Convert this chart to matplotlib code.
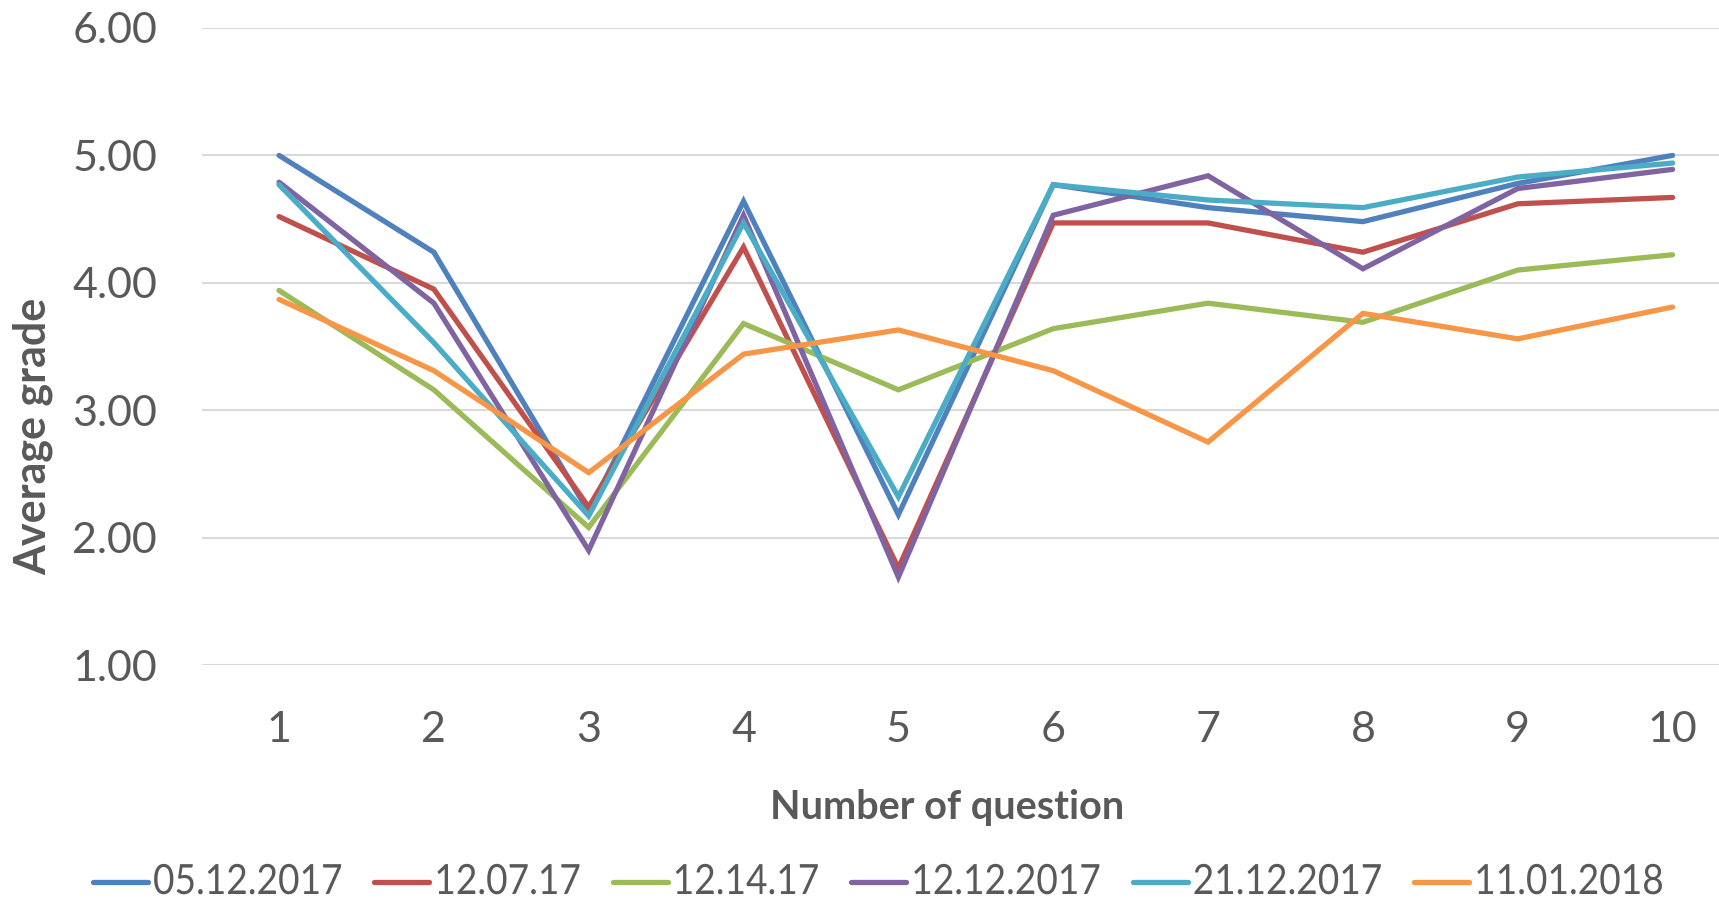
import matplotlib
matplotlib.use("Agg")
import matplotlib.pyplot as plt
from matplotlib.lines import Line2D
from matplotlib.patheffects import AbstractPathEffect
from matplotlib.transforms import Affine2D

questions = [1, 2, 3, 4, 5, 6, 7, 8, 9, 10]
s_0512 = [5.00, 4.24, 2.20, 4.64, 2.18, 4.77, 4.59, 4.48, 4.78, 5.00]
s_1207 = [4.52, 3.95, 2.24, 4.28, 1.76, 4.47, 4.47, 4.24, 4.62, 4.67]
s_1214 = [3.94, 3.16, 2.08, 3.68, 3.16, 3.64, 3.84, 3.69, 4.10, 4.22]
s_1212 = [4.79, 3.84, 1.90, 4.53, 1.69, 4.53, 4.84, 4.11, 4.74, 4.89]
s_2112 = [4.77, 3.53, 2.17, 4.47, 2.32, 4.77, 4.65, 4.59, 4.83, 4.94]
s_1101 = [3.87, 3.31, 2.51, 3.44, 3.63, 3.31, 2.75, 3.76, 3.56, 3.81]
labels = ["05.12.2017", "12.07.17", "12.14.17", "12.12.2017", "21.12.2017", "11.01.2018"]
yticks = [1.0, 2.0, 3.0, 4.0, 5.0, 6.0]

series = [s_0512, s_1207, s_1214, s_1212, s_2112, s_1101]
colors = ["#4F81BD", "#C0504D", "#9BBB59", "#8064A2", "#4BACC6", "#F79646"]

plt.rcParams['font.family'] = ['Lato', 'DejaVu Sans']
grey = "#595959"
W, H = 1719, 900


class HScale(AbstractPathEffect):
    """Compress text horizontally (narrow legend font as in the original)."""
    def __init__(self, sx):
        super().__init__()
        self.sx = sx

    def draw_path(self, renderer, gc, tpath, affine, rgbFace=None):
        renderer.draw_path(gc, tpath, Affine2D().scale(self.sx, 1.0) + affine, rgbFace)


fig = plt.figure(figsize=(W / 100, H / 100), dpi=100)
ax = fig.add_axes([201.6 / W, 0.2611, 1548.4 / W, 0.7078])

lw = 3.8
for vals, c, lab in zip(series, colors, labels):
    ax.plot(questions, vals, color=c, lw=lw, label=lab, solid_capstyle='round',
            solid_joinstyle='miter', zorder=3)

ax.set_xlim(0.5, 10.5)
ax.set_ylim(1, 6)
ax.set_yticks(yticks)
ax.set_yticklabels([f"{v:.2f}" for v in yticks])
ax.set_xticks(questions)
ax.set_xticklabels([str(q) for q in questions])
ax.grid(axis='y', color='#D9D9D9', lw=1.5, zorder=0)
ax.tick_params(axis='both', length=0, labelsize=31, colors=grey)
ax.tick_params(axis='x', pad=33)
ax.tick_params(axis='y', pad=32)
for sp in ax.spines.values():
    sp.set_visible(False)

fig.text(947 / W, 0.103, "Number of question", ha='center', va='center',
         fontsize=28.5, fontweight='bold', color=grey)
fig.text(0.019, 0.5156, "Average grade", ha='center', va='center', rotation=90,
         fontsize=31, fontweight='bold', color=grey)

# legend (narrow font emulated by horizontal compression)
sx = 0.89
renderer = fig.canvas.get_renderer()
x = 93.0
y = 882.0
handle_len = 55.0
for c, lab in zip(colors, labels):
    fig.add_artist(Line2D([x / W, (x + handle_len) / W], [1 - y / H, 1 - y / H],
                          transform=fig.transFigure, color=c, lw=lw,
                          solid_capstyle='round'))
    t = fig.text((x + handle_len + 5) / W, 1 - y / H, lab, ha='left', va='center',
                 fontsize=30, color=grey, path_effects=[HScale(sx)])
    w = t.get_window_extent(renderer).width * sx
    x = x + handle_len + 5 + w + 32

fig.savefig("out.png", dpi=100)
